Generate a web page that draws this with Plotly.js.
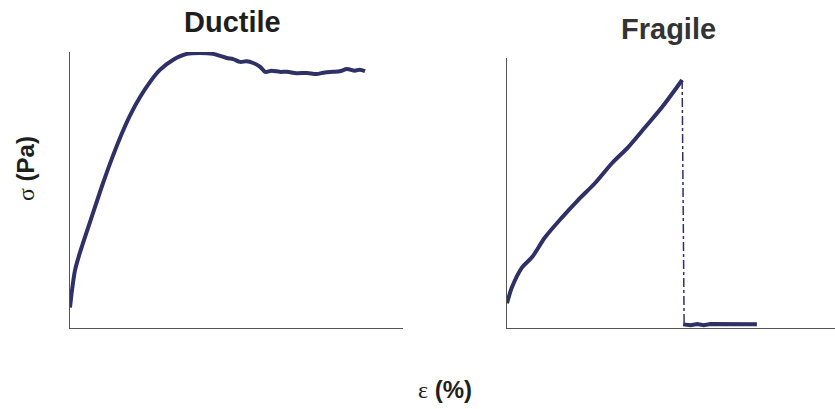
<!DOCTYPE html>
<html>
<head>
<meta charset="utf-8">
<script src="https://cdn.plot.ly/plotly-3.0.1.min.js"></script>
<style>html,body{margin:0;padding:0;background:#fff;}#chart{width:835px;height:409px;}</style>
</head>
<body>
<div id="chart"></div>
<script>
// Ductile curve (arbitrary units: strain 0-100, stress 0-100)
const ductileStrain = [0, 0.6, 1.5, 3.0, 6.9, 9.9, 12.6, 15.6, 18.0, 21.0, 24.0, 27.0, 30.9, 35.1, 39.0, 42.9, 45.0, 47.1, 49.0, 51.1, 53.0, 55.0, 57.1, 58.6, 60.5, 63.0, 65.2, 68.0, 71.2, 74.0, 76.5, 79.0, 81.0, 83.2, 85.5, 87.0, 88.6];
const ductileStress = [7.6, 13.8, 21.0, 27.5, 41.7, 52.5, 61.5, 70.6, 77.0, 83.6, 89.1, 93.5, 97.1, 99.3, 99.6, 99.3, 98.6, 97.8, 97.4, 96.4, 96.6, 96.0, 94.6, 92.8, 93.2, 92.8, 92.8, 92.3, 92.4, 92.0, 92.6, 92.8, 93.0, 93.8, 93.2, 93.6, 93.1];

// Fragile curve
const fragileStrain = [0, 1.5, 4.6, 7.6, 11.6, 16.8, 21.6, 26.8, 32.0, 36.9, 42.1, 47.3, 53.4];
const fragileStress = [9.3, 15.2, 22.6, 26.3, 33.7, 41.1, 47.4, 53.7, 61.1, 67.0, 74.4, 81.9, 91.9];
// Fracture drop
const fractureStrain = [53.4, 54.0];
const fractureStress = [91.9, 1.5];
// Post-fracture residual
const residualStrain = [53.7, 56.0, 58.0, 60.0, 62.0, 66.0, 70.0, 76.2];
const residualStress = [1.5, 1.2, 1.6, 1.2, 1.6, 1.5, 1.5, 1.5];

const titles = ["Ductile", "Fragile"];
const xTitle = "<span style='font-family:Liberation Serif,serif;font-weight:normal'>ε</span> <b>(%)</b>";
const yTitle = "<span style='font-family:Liberation Serif,serif;font-weight:normal'>σ</span> <b>(Pa)</b>";

const lineColor = "#2f3166";
const axisColor = "#555555";

const traces = [
  {x: ductileStrain, y: ductileStress, xaxis: "x", yaxis: "y", mode: "lines",
   line: {color: lineColor, width: 4, shape: "spline", smoothing: 0.8}, hoverinfo: "skip"},
  {x: fragileStrain, y: fragileStress, xaxis: "x2", yaxis: "y2", mode: "lines",
   line: {color: lineColor, width: 4, shape: "spline", smoothing: 0.8}, hoverinfo: "skip"},
  {x: fractureStrain, y: fractureStress, xaxis: "x2", yaxis: "y2", mode: "lines",
   line: {color: lineColor, width: 1.5, dash: "dashdot"}, hoverinfo: "skip"},
  {x: residualStrain, y: residualStress, xaxis: "x2", yaxis: "y2", mode: "lines",
   line: {color: lineColor, width: 4}, hoverinfo: "skip"}
];

const axBase = {showline: true, linecolor: axisColor, linewidth: 1, showgrid: false,
  zeroline: false, showticklabels: false, ticks: "", fixedrange: true};

const layout = {
  width: 835, height: 409,
  margin: {l: 0, r: 0, t: 0, b: 0},
  paper_bgcolor: "#fff", plot_bgcolor: "#fff",
  showlegend: false,
  xaxis: Object.assign({}, axBase, {domain: [70/835, 403/835], range: [0, 100]}),
  yaxis: Object.assign({}, axBase, {domain: [0.197, 0.873], range: [0, 100]}),
  xaxis2: Object.assign({}, axBase, {domain: [507/835, 1], range: [0, 100], anchor: "y2"}),
  yaxis2: Object.assign({}, axBase, {domain: [0.197, 0.858], range: [0, 100], anchor: "x2"}),
  annotations: [
    {text: "<b>" + titles[0] + "</b>", x: 232/835, y: 1 - 22/409, xref: "paper", yref: "paper",
     showarrow: false, xanchor: "center", yanchor: "middle",
     font: {family: "Liberation Sans, Arial, sans-serif", size: 29, color: "#1e1e1e"}},
    {text: "<b>" + titles[1] + "</b>", x: 668/835, y: 1 - 29/409, xref: "paper", yref: "paper",
     showarrow: false, xanchor: "center", yanchor: "middle",
     font: {family: "Liberation Sans, Arial, sans-serif", size: 29, color: "#333333"}},
    {text: xTitle, x: 445/835, y: 1 - 389/409, xref: "paper", yref: "paper",
     showarrow: false, xanchor: "center", yanchor: "middle",
     font: {family: "Liberation Sans, Arial, sans-serif", size: 24, color: "#1e1e1e"}},
    {text: yTitle, x: 26/835, y: 1 - 169/409, xref: "paper", yref: "paper", textangle: -90,
     showarrow: false, xanchor: "center", yanchor: "middle",
     font: {family: "Liberation Sans, Arial, sans-serif", size: 24, color: "#1e1e1e"}}
  ]
};

Plotly.newPlot("chart", traces, layout, {displayModeBar: false, staticPlot: true});
</script>
</body>
</html>
